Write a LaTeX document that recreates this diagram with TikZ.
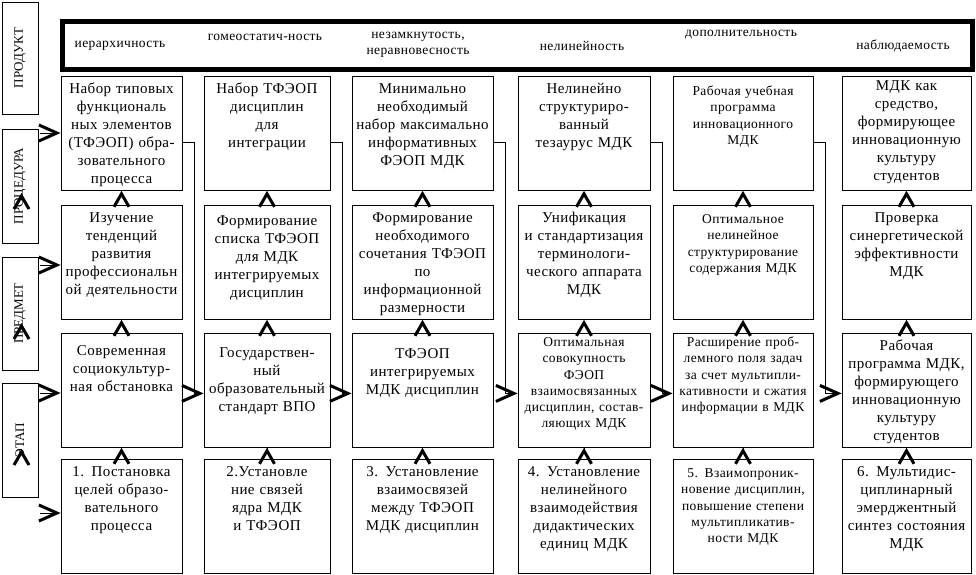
\documentclass[tikz,border=0pt]{standalone}
\usepackage{fontspec}
\setmainfont{Liberation Serif}
\usetikzlibrary{arrows.meta}
\newcommand\cellfont{\fontsize{15}{18}\selectfont\addfontfeature{LetterSpace=3}}
\newcommand\cellsmall{\fontsize{13.5}{16.3}\selectfont\addfontfeature{LetterSpace=3}}
\newcommand\propfont{\fontsize{13.5}{16}\selectfont\addfontfeature{LetterSpace=3}}
\newcommand\sidefont{\fontsize{13}{15}\selectfont}
\tikzset{
  cell/.style={draw,line width=.8pt,anchor=north,inner sep=2pt,align=center,
    text width=#1,text height=15.5pt,text depth=94.5pt,font=\cellfont},
  drop/.style={text height=#1,text depth=110pt-#1},
  smallcell/.style={font=\cellsmall},
  side/.style={draw,line width=.8pt,rotate=90,minimum width=#1,minimum height=36pt,inner sep=0pt,font=\sidefont},
  prop/.style={align=center,inner sep=0pt,font=\propfont},
  fwd/.style={-{Straight Barb[length=18pt,width=16pt,line width=3pt]},line width=.8pt},
  rise/.style={-{Straight Barb[length=13pt,width=15pt,line width=3pt]},line width=.8pt,shorten <=11pt}
}
\begin{document}
\begin{tikzpicture}[x=1pt,y=-1pt]
\useasboundingbox (0,0) rectangle (976,574);
% left column
\node[side=112pt] (prod) at (20,58) {ПРОДУКТ};
\node[side=114pt] (proc) at (20,186) {ПРОЦЕДУРА};
\node[side=113pt] (subj) at (20,313.5) {ПРЕДМЕТ};
\node[side=114pt] (stage) at (20,440) {ЭТАП};
% properties
\node[draw,line width=5pt,minimum width=910pt,minimum height=48pt,inner sep=0pt] (bar) at (517,45.5) {};
\node[prop] (p1) at (120,46) {иерархичность};
\node[prop] (p2) at (265,37) {гомеостатич-ность};
\node[prop] (p3) at (418,45) {незамкнутость,\\неравновесность};
\node[prop] (p4) at (582,46) {нелинейность};
\node[prop] (p5) at (741,35) {дополнительность};
\node[prop] (p6) at (903,46) {наблюдаемость};
% column 1
\node[cell=117pt] (b11) at (121.5,76) {Набор типовых\\функциональ\\ных элементов\\(ТФЭОП) обра-\\зовательного\\процесса};
\node[cell=117pt] (b12) at (121.5,205) {Изучение\\тенденций\\развития\\профессиональн\\ой деятельности};
\node[cell=117pt,drop=20.5pt] (b13) at (121.5,333) {Современная\\социокультур-\\ная обстановка};
\node[cell=117pt] (b14) at (121.5,459) {1. Постановка\\целей образо-\\вательного\\процесса};
% column 2
\node[cell=122pt] (b21) at (267,76) {Набор ТФЭОП\\дисциплин\\для\\интеграции};
\node[cell=122pt,drop=18pt] (b22) at (267,205) {Формирование\\списка ТФЭОП\\для МДК\\интегрируемых\\дисциплин};
\node[cell=122pt,drop=22pt] (b23) at (267,333) {Государствен-\\ный\\образовательный\\стандарт ВПО};
\node[cell=122pt] (b24) at (267,459) {2.Установле\\ние связей\\ядра МДК\\и ТФЭОП};
% column 3
\node[cell=137pt] (b31) at (422.5,76) {Минимально\\необходимый\\набор максимально\\информативных\\ФЭОП МДК};
\node[cell=137pt] (b32) at (422.5,205) {Формирование\\необходимого\\сочетания ТФЭОП\\по\\информационной\\размерности};
\node[cell=137pt,drop=23pt] (b33) at (422.5,333) {ТФЭОП\\интегрируемых\\МДК дисциплин};
\node[cell=137pt] (b34) at (422.5,459) {3. Установление\\взаимосвязей\\между ТФЭОП\\МДК дисциплин};
% column 4
\node[cell=128pt] (b41) at (584,76) {Нелинейно\\структуриро-\\ванный\\тезаурус МДК};
\node[cell=128pt] (b42) at (584,205) {Унификация\\и стандартизация\\терминологи-\\ческого аппарата\\МДК};
\node[cell=128pt,smallcell,drop=11pt] (b43) at (584,333) {Оптимальная\\совокупность\\ФЭОП\\взаимосвязанных\\дисциплин, состав-\\ляющих МДК};
\node[cell=128pt] (b44) at (584,459) {4. Установление\\нелинейного\\взаимодействия\\дидактических\\единиц МДК};
% column 5
\node[cell=136pt,smallcell,drop=17pt] (b51) at (743,76) {Рабочая учебная\\программа\\инновационного\\МДК};
\node[cell=136pt,smallcell,drop=16pt] (b52) at (743,205) {Оптимальное\\нелинейное\\структурирование\\содержания МДК};
\node[cell=136pt,smallcell,drop=11pt] (b53) at (743,333) {Расширение проб-\\лемного поля задач\\за счет мультипли-\\кативности и сжатия\\информации в МДК};
\node[cell=136pt,smallcell,drop=16pt] (b54) at (743,459) {5. Взаимопроник-\\новение дисциплин,\\повышение степени\\мультипликатив-\\ности МДК};
% column 6
\node[cell=125pt,drop=12pt] (b61) at (906.5,76) {МДК как\\средство,\\формирующее\\инновационную\\культуру\\студентов};
\node[cell=125pt] (b62) at (906.5,205) {Проверка\\синергетической\\эффективности\\МДК};
\node[cell=125pt] (b63) at (906.5,333) {Рабочая\\программа МДК,\\формирующего\\инновационную\\культуру\\студентов};
\node[cell=125pt] (b64) at (906.5,459) {6. Мультидис-\\циплинарный\\эмерджентный\\синтез состояния\\МДК};
% arrows up each column
\foreach \i in {1,...,6}{\foreach \j/\k in {2/1,3/2,4/3}{\draw[rise] (b\i\j.north) -- (b\i\k.south);}}
% links to next column
\foreach \i/\k in {1/2,2/3,3/4,4/5,5/6}{\draw[fwd] ([yshift=-9pt]b\i1.east) -- ++(12,0) |- ([yshift=-3pt]b\k3.west);}
% inputs on the left
\foreach \j/\y in {1/133,2/265,3/393,4/513}{\coordinate (s\j) at (40,\y);\draw[fwd] (s\j) -- (s\j -| b1\j.west);}
\foreach \n/\y in {proc/193,subj/323,stage/449}{\coordinate (t\n) at (21.5,\y);\draw[rise] ([yshift=-16pt]t\n) -- (t\n);}
\end{tikzpicture}
\end{document}
